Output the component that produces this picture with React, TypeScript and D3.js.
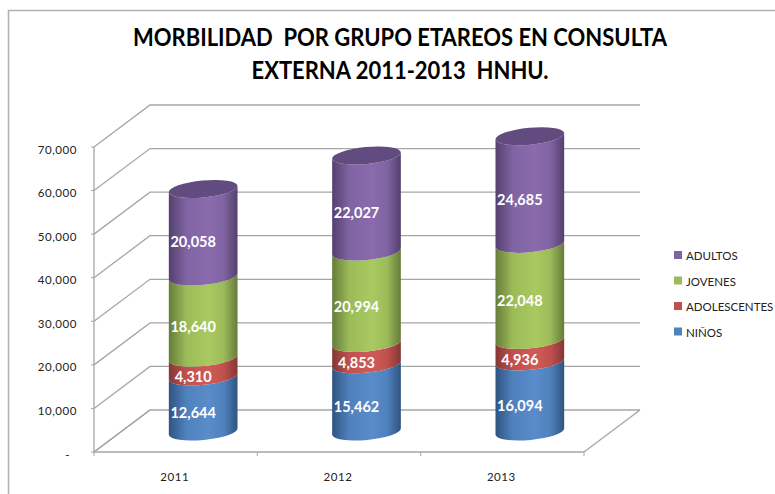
import React from "react";
import * as d3 from "d3";

const years = ["2011", "2012", "2013"];
const seriesNames = ["NIÑOS", "ADOLESCENTES", "JOVENES", "ADULTOS"];
const ninos = [12644, 15462, 16094];
const adolescentes = [4310, 4853, 4936];
const jovenes = [18640, 20994, 22048];
const adultos = [20058, 22027, 24685];
const yTicks = [0, 10000, 20000, 30000, 40000, 50000, 60000, 70000];
const titleLines = ["MORBILIDAD  POR GRUPO ETAREOS EN CONSULTA", "EXTERNA 2011-2013  HNHU."];

const allSeries = [ninos, adolescentes, jovenes, adultos];
const base = ["#4f81bd", "#c0504d", "#9bbb59", "#8064a2"];
const mid = ["#5a8ccb", "#cf5b58", "#a9ca60", "#8a6bae"];
const dark = ["#2f5480", "#853734", "#667c3a", "#54406e"];
const topCol = "#624c7f";

const W = 775, H = 494;
const frontL = 94, frontR = 584, frontY0 = 452;
const depthX = 56, depthY = 42;
const heightScale = d3.scaleLinear().domain([0, 70000]).range([0, 305]);
const frontBand = d3.scaleBand<string>().domain(years).range([frontL, frontR]);
const rx = 34.5, ry = 8.5, tiltDeg = -5.5;
const dxT = rx * Math.cos((tiltDeg * Math.PI) / 180);
const dyT = rx * Math.sin((tiltDeg * Math.PI) / 180);
const fmt = d3.format(",");
const fontF = "Lato, 'Open Sans', sans-serif";
const grey = "#a6a6a6";
const baseY = frontY0 - depthY / 2 + 0.5;

export default function App() {
  const stack = years.map((_, i) => {
    let acc = 0;
    return allSeries.map((s) => {
      const a = acc;
      acc += s[i];
      return [a, acc, s[i]];
    });
  });
  return (
    <svg width={W} height={H} style={{ position: "absolute", left: 0, top: 0, background: "#fff" }} fontFamily={fontF}>
      <defs>
        {base.map((_, k) => (
          <linearGradient key={k} id={`g${k}`} x1="0" x2="1" y1="0" y2="0">
            <stop offset="0" stopColor={dark[k]} />
            <stop offset="0.25" stopColor={base[k]} />
            <stop offset="0.58" stopColor={mid[k]} />
            <stop offset="0.8" stopColor={base[k]} />
            <stop offset="1" stopColor={dark[k]} />
          </linearGradient>
        ))}
      </defs>
      <path d={`M${W},10.5H8.5V${H}`} fill="none" stroke="#b0b0b0" strokeWidth={1.5} />
      {titleLines.map((t, i) => (
        <text key={i} x={400} y={46 + i * 32.5} textAnchor="middle" fontSize={24} fontWeight={700} fill="#000" style={{ whiteSpace: "pre" }}
          textLength={i === 0 ? 534 : 297} lengthAdjust="spacingAndGlyphs" fontFamily={fontF}>{t}</text>
      ))}
      {yTicks.map((v) => {
        const h = heightScale(v);
        return (
          <g key={v}>
            <path
              d={`M${frontL},${frontY0 - h}L${frontL + depthX},${frontY0 - depthY - h}H${frontR + depthX}`}
              fill="none" stroke={grey} strokeWidth={1.3} />
            <line x1={frontL - 3} x2={frontL} y1={frontY0 - h} y2={frontY0 - h} stroke={grey} />
            <text x={v === 0 ? 70 : 77} y={frontY0 - h + 6.5} textAnchor="end" fontSize={11.5} fill="#222" letterSpacing={0.55}>
              {v === 0 ? "-" : fmt(v)}
            </text>
          </g>
        );
      })}
      <line x1={frontL} x2={frontL} y1={frontY0 - heightScale(70000)} y2={frontY0} stroke={grey} strokeWidth={1.3} />
      <line x1={frontL} x2={frontR} y1={frontY0} y2={frontY0} stroke={grey} strokeWidth={1.3} />
      <line x1={frontL} x2={frontL + depthX} y1={frontY0} y2={frontY0 - depthY} stroke={grey} strokeWidth={1.3} />
      <line x1={frontR} x2={frontR + depthX} y1={frontY0} y2={frontY0 - depthY} stroke={grey} strokeWidth={1.3} />
      {[...years, "end"].map((y, i) => {
        const x = frontL + i * frontBand.step();
        return <line key={y} x1={x} x2={x} y1={frontY0} y2={frontY0 + 4} stroke={grey} />;
      })}
      {years.map((y) => (
        <text key={y} x={frontBand(y)! + frontBand.bandwidth() / 2 - 1} y={481} textAnchor="middle" fontSize={11.5} fill="#222" letterSpacing={0.55}>{y}</text>
      ))}
      {years.map((y, i) => {
        const cx = frontBand(y)! + frontBand.bandwidth() / 2 + depthX / 2 - 0.5;
        const yAt = (v: number) => baseY - heightScale(v);
        const total = stack[i][3][1];
        const tc = yAt(total);
        return (
          <g key={y}>
            {stack[i].map(([a, b], k) => {
              const y0 = yAt(a), y1 = yAt(b);
              const d = `M${cx - dxT},${y1 - dyT}L${cx - dxT},${y0 - dyT}` +
                `A${rx},${ry} ${tiltDeg} 0 0 ${cx + dxT},${y0 + dyT}` +
                `L${cx + dxT},${y1 + dyT}` +
                `A${rx},${ry} ${tiltDeg} 0 1 ${cx - dxT},${y1 - dyT}Z`;
              return <path key={k} d={d} fill={`url(#g${k})`} />;
            })}
            <ellipse cx={cx} cy={tc} rx={rx} ry={ry} fill={topCol} transform={`rotate(${tiltDeg} ${cx} ${tc})`} />
            {stack[i].map(([a, b, v], k) => (
              <text key={k} x={cx - 10} y={yAt((a + b) / 2) + 14.5} textAnchor="middle" fontSize={14.5} fontWeight={700} fill="#fff">{fmt(v)}</text>
            ))}
          </g>
        );
      })}
      {[3, 2, 1, 0].map((k, row) => (
        <g key={k} transform={`translate(674,${251 + row * 25.5})`}>
          <rect x={0} y={0} width={8} height={8} fill={base[k]} />
          <text x={12} y={9} fontSize={11.5} fill="#222">{seriesNames[k]}</text>
        </g>
      ))}
    </svg>
  );
}
